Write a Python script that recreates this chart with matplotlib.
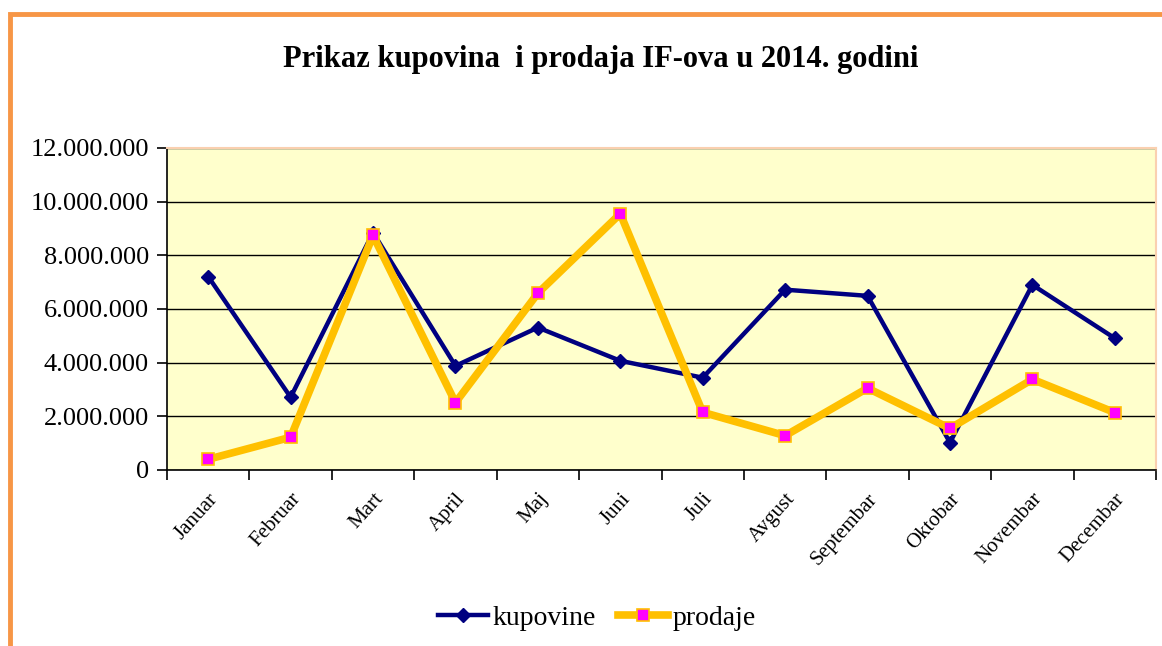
import matplotlib
matplotlib.use("Agg")
import matplotlib.pyplot as plt
from matplotlib.patches import Rectangle
from matplotlib.ticker import FuncFormatter, FixedLocator

months = ['Januar', 'Februar', 'Mart', 'April', 'Maj', 'Juni', 'Juli',
          'Avgust', 'Septembar', 'Oktobar', 'Novembar', 'Decembar']
kupovine = [7210000, 2710000, 8850000, 3880000, 5310000, 4070000,
            3440000, 6720000, 6490000, 1020000, 6900000, 4910000]
prodaje = [400000, 1220000, 8740000, 2510000, 6590000, 9550000,
           2150000, 1280000, 3050000, 1550000, 3380000, 2140000]
yticks = [0, 2000000, 4000000, 6000000, 8000000, 10000000, 12000000]

plt.rcParams['font.family'] = ['Liberation Serif', 'DejaVu Serif']

fig = plt.figure(figsize=(11.62, 6.46), dpi=100)
fig.patch.set_facecolor('white')

# orange chart frame, running off the right and bottom edges
frame = Rectangle((10 / 1162, -0.05), 1.2, 1 - 14 / 646 + 0.05,
                  transform=fig.transFigure, fill=False,
                  edgecolor='#F79646', linewidth=3.5)
fig.add_artist(frame)

ax = fig.add_axes([167 / 1162, 1 - 470 / 646, (1156 - 167) / 1162, (470 - 148) / 646])
ax.set_facecolor('#FFFFCC')

x = list(range(len(months)))
ax.plot(x, kupovine, color='#000080', linewidth=3.2, marker='D',
        markersize=7.5, markerfacecolor='#000080', markeredgecolor='#000080',
        label='kupovine', zorder=3)
ax.plot(x, prodaje, color='#FFC000', linewidth=5.5, marker='s',
        markersize=8, markerfacecolor='#FF00FF', markeredgecolor='#FFC000',
        markeredgewidth=1.2, label='prodaje', zorder=4)

ax.set_xlim(-0.5, len(months) - 0.5)
ax.set_ylim(0, 12000000)
ax.set_yticks(yticks)
ax.yaxis.set_major_formatter(FuncFormatter(lambda v, p: '{:,.0f}'.format(v).replace(',', '.')))
ax.yaxis.grid(True, color='black', linewidth=1.0)
ax.set_axisbelow(True)

# category ticks sit between months, labels at the centres
ax.xaxis.set_major_locator(FixedLocator([i - 0.5 for i in range(len(months) + 1)]))
ax.xaxis.set_major_formatter(FuncFormatter(lambda v, p: ''))
ax.set_xticks(x, minor=True)
ax.set_xticklabels(months, minor=True, rotation=48, ha='right', rotation_mode='anchor',
                   fontsize=15)
ax.tick_params(axis='x', which='minor', length=0, pad=14)
ax.tick_params(axis='x', which='major', length=7, width=1.2, direction='out')
ax.tick_params(axis='y', length=7, width=1.2, direction='out', labelsize=19, pad=6)

for s in ['top', 'right']:
    ax.spines[s].set_color('#FAD0B0')
    ax.spines[s].set_linewidth(1.5)
for s in ['left', 'bottom']:
    ax.spines[s].set_color('black')
    ax.spines[s].set_linewidth(1.2)

fig.text(601 / 1162, 1 - 60 / 646, 'Prikaz kupovina  i prodaja IF-ova u 2014. godini',
         ha='center', va='center', fontsize=22, fontweight='bold')

fig.legend(loc='center', bbox_to_anchor=(597 / 1162, 1 - 618 / 646), ncol=2,
           frameon=False, fontsize=20, handlelength=1.8, columnspacing=0.8,
           handletextpad=0.15)

fig.savefig('out.png', dpi=100)
